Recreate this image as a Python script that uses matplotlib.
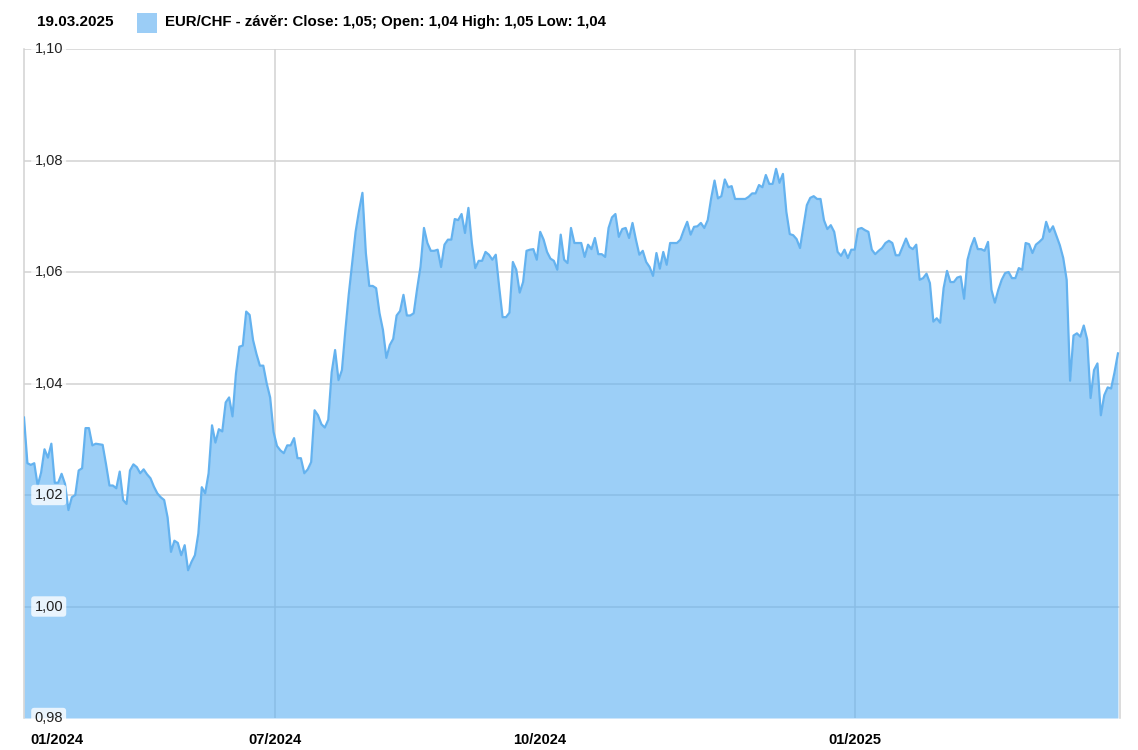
import numpy as np
import matplotlib
matplotlib.use("Agg")
import matplotlib.pyplot as plt
import matplotlib.transforms as mtransforms

plt.rcParams['font.family'] = ['Liberation Sans', 'DejaVu Sans']

# EUR/CHF closes (left to right)
closes = [
    1.0339, 1.0257, 1.0254, 1.0257, 1.0217, 1.0240, 1.0282, 1.0267, 1.0292, 1.0222, 1.0222,
    1.0238, 1.0220, 1.0173, 1.0196, 1.0200, 1.0244, 1.0248, 1.0320, 1.0320, 1.0289,
    1.0292, 1.0291, 1.0290, 1.0255, 1.0217, 1.0217, 1.0212, 1.0242, 1.0191, 1.0184,
    1.0244, 1.0255, 1.0250, 1.0239, 1.0246, 1.0237, 1.0230, 1.0215, 1.0203, 1.0196,
    1.0191, 1.0160, 1.0098, 1.0118, 1.0114, 1.0092, 1.0110, 1.0065, 1.0080, 1.0092,
    1.0131, 1.0214, 1.0203, 1.0239, 1.0325,
    1.0294, 1.0318, 1.0314, 1.0366, 1.0375, 1.0341, 1.0418, 1.0466, 1.0468, 1.0529,
    1.0523, 1.0478, 1.0453, 1.0432, 1.0432, 1.0400, 1.0375, 1.0313, 1.0288, 1.0280,
    1.0275, 1.0289, 1.0289, 1.0302, 1.0266, 1.0266, 1.0239, 1.0246, 1.0259, 1.0352,
    1.0343, 1.0327, 1.0321, 1.0335, 1.0420, 1.0460, 1.0406, 1.0424, 1.0495, 1.0560,
    1.0616, 1.0672, 1.0710, 1.0742, 1.0634, 1.0575, 1.0575, 1.0571, 1.0526, 1.0496,
    1.0446, 1.0469,
    1.0480, 1.0522, 1.0530, 1.0559, 1.0522, 1.0522, 1.0526, 1.0570, 1.0610, 1.0679,
    1.0652, 1.0638, 1.0638, 1.0640, 1.0609, 1.0649, 1.0658, 1.0658, 1.0695, 1.0693,
    1.0704, 1.0670, 1.0715, 1.0652, 1.0607, 1.0620, 1.0620, 1.0636, 1.0631, 1.0622,
    1.0631, 1.0573, 1.0519, 1.0519, 1.0527, 1.0618, 1.0604, 1.0563, 1.0582, 1.0638,
    1.0640, 1.0641, 1.0622, 1.0672, 1.0658, 1.0636, 1.0624, 1.0620, 1.0604, 1.0667,
    1.0622, 1.0616,
    1.0679, 1.0652, 1.0652, 1.0652, 1.0627, 1.0649, 1.0641, 1.0661, 1.0632, 1.0632,
    1.0627, 1.0679, 1.0698, 1.0704, 1.0663, 1.0677, 1.0679, 1.0661, 1.0688, 1.0658,
    1.0631, 1.0638, 1.0618, 1.0609, 1.0593, 1.0634, 1.0606, 1.0636, 1.0613, 1.0652,
    1.0652, 1.0652, 1.0658, 1.0675, 1.0690, 1.0667, 1.0681, 1.0682, 1.0688, 1.0679,
    1.0693, 1.0732, 1.0764, 1.0732, 1.0736, 1.0766, 1.0752, 1.0754, 1.0731, 1.0731,
    1.0731, 1.0731, 1.0735,
    1.0741, 1.0741, 1.0756, 1.0752, 1.0774, 1.0758, 1.0758, 1.0785, 1.0760, 1.0776,
    1.0708, 1.0668, 1.0666, 1.0659, 1.0643, 1.0681, 1.0720, 1.0733, 1.0736, 1.0731,
    1.0731, 1.0693, 1.0677, 1.0684, 1.0672, 1.0636, 1.0629, 1.0640, 1.0625, 1.0640,
    1.0640, 1.0677, 1.0679, 1.0675, 1.0672, 1.0640, 1.0632, 1.0638, 1.0643, 1.0652,
    1.0656, 1.0652, 1.0630, 1.0630, 1.0645, 1.0660, 1.0645, 1.0641, 1.0649, 1.0586,
    1.0589, 1.0597,
    1.0580, 1.0511, 1.0517, 1.0509, 1.0571, 1.0602, 1.0582, 1.0582, 1.0590, 1.0592,
    1.0552, 1.0622, 1.0645, 1.0661, 1.0641, 1.0641, 1.0638, 1.0654, 1.0568,
    1.0545, 1.0568, 1.0586, 1.0598, 1.0600, 1.0589, 1.0589, 1.0607, 1.0604, 1.0652,
    1.0650, 1.0634, 1.0649, 1.0654, 1.0660, 1.0690, 1.0672, 1.0682, 1.0665, 1.0648,
    1.0625, 1.0586, 1.0405, 1.0486, 1.0490, 1.0484, 1.0504, 1.0479, 1.0374, 1.0424,
    1.0436, 1.0343, 1.0379, 1.0393, 1.0391, 1.0420, 1.0454,
]

y_ticks = [0.98, 1.00, 1.02, 1.04, 1.06, 1.08, 1.10]
y_tick_labels = ["0,98", "1,00", "1,02", "1,04", "1,06", "1,08", "1,10"]
x_tick_labels = ["01/2024", "07/2024", "10/2024", "01/2025"]
x_tick_index = [9.7, 73.4, 150.9, 243.0]
x_grid_index = [73.4, 243.0]

header_date = "19.03.2025"
legend_text = "EUR/CHF - závěr: Close: 1,05; Open: 1,04 High: 1,05 Low: 1,04"

W, H = 1138, 750
fig = plt.figure(figsize=(W / 100, H / 100), dpi=100)
ax = fig.add_axes([24 / W, (H - 718) / H, (1120 - 24) / W, (718 - 49) / H])

x = np.arange(len(closes))
ax.set_xlim(0, len(closes) - 1 + 0.6)
ax.set_ylim(0.98, 1.10)

grid_c = "#d2d2d2"
for v in y_ticks[1:]:
    ax.axhline(v, color=grid_c, lw=1.1, zorder=1)
for gi in x_grid_index:
    ax.axvline(gi, color=grid_c, lw=1.1, zorder=1)

ax.fill_between(x, closes, 0.98, color="#5aaff3", alpha=0.6, lw=0, zorder=2)
ax.plot(x, closes, color="#64b2ef", lw=1.6, zorder=3, solid_joinstyle="round")

for s in ["top", "bottom"]:
    ax.spines[s].set_visible(False)
for s in ["left", "right"]:
    ax.spines[s].set_color(grid_c)
    ax.spines[s].set_linewidth(1.1)

ax.set_yticks([])
trans = mtransforms.blended_transform_factory(ax.transAxes, ax.transData)
for v, lab in zip(y_ticks, y_tick_labels):
    ax.text(0.0095, v, lab, transform=trans, ha="left", va="center", fontsize=10.5,
            color="#222222", zorder=5, clip_on=False,
            bbox=dict(boxstyle="round,pad=0.22", fc="white", ec="none", alpha=0.78))

ax.set_xticks(x_tick_index)
ax.set_xticklabels(x_tick_labels, fontweight="bold", fontsize=10.5)
ax.tick_params(axis="x", length=0, pad=11, colors="black")

fig.text(37 / W, 1 - 22 / H, header_date, ha="left", va="center", fontsize=11,
         fontweight="bold")
fig.patches.append(plt.Rectangle((137 / W, 1 - 33 / H), 20 / W, 20 / H,
                                 transform=fig.transFigure, fc="#9bcdf6", ec="none"))
fig.text(165 / W, 1 - 22 / H, legend_text, ha="left", va="center", fontsize=10.8,
         fontweight="bold")

fig.savefig("out.png", dpi=100)
